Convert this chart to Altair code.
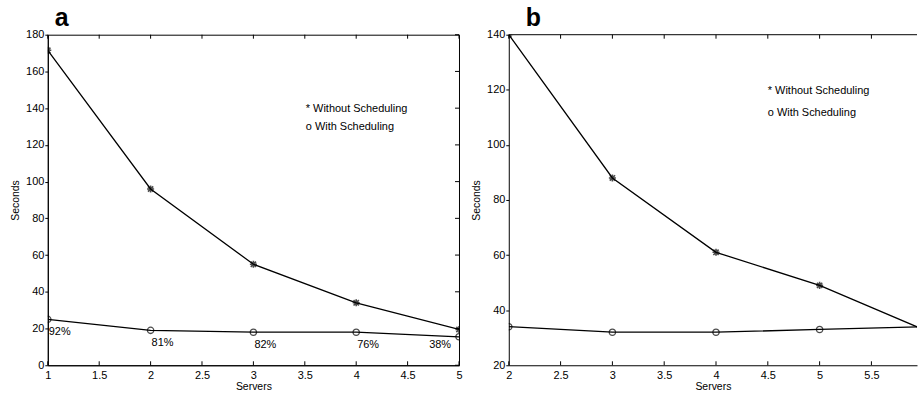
import altair as alt
import pandas as pd

# ---- data ----
servers_a = [1, 2, 3, 4, 5]
without_a = [171.5, 96, 55, 34, 19.5]
with_a = [25, 19, 18, 18, 15.5]
pct_a = ["92%", "81%", "82%", "76%", "38%"]

servers_b = [2, 3, 4, 5, 6]
without_b = [140, 88, 61, 49, 33]
with_b = [34, 32, 32, 33, 34]

xticks_a = [1, 1.5, 2, 2.5, 3, 3.5, 4, 4.5, 5]
yticks_a = [0, 20, 40, 60, 80, 100, 120, 140, 160, 180]
xticks_b = [2, 2.5, 3, 3.5, 4, 4.5, 5, 5.5]
yticks_b = [20, 40, 60, 80, 100, 120, 140]

legend_text = ["* Without Scheduling", "o With Scheduling"]
legend_a_x = [3.51, 3.51]
legend_a_y = [139.3, 129.6]
legend_b_x = [4.5, 4.5]
legend_b_y = [119.4, 111.4]

# panel b is cut off by the right edge of the figure just before x = 6
xdom_b = [2, 5.94]

FONT = "Liberation Sans"
ASTERISK = "M-1,0L1,0M0,-1L0,1M-0.75,-0.75L0.75,0.75M-0.75,0.75L0.75,-0.75"


def panel(title, title_dx, servers, without, withs, xdom, ydom, xticks, yticks,
          W, H, lx, ly, pct=None, right_frame=True):
    df = pd.DataFrame({"Servers": servers, "Without": without, "With": withs})
    xs = alt.Scale(domain=xdom, nice=False, zero=False)
    ys = alt.Scale(domain=ydom, nice=False, zero=False)
    xaxis = alt.Axis(values=xticks, format="~g", ticks=False, grid=False,
                     labelPadding=4, title="Servers", titlePadding=1,
                     labelFlush=False, labelOverlap=False)
    yaxis = alt.Axis(values=yticks, grid=False, ticks=True, tickSize=3,
                     labelPadding=1, title="Seconds", titlePadding=5,
                     labelFlush=False, labelOverlap=False)

    def X(f):
        return alt.X(f, scale=xs, axis=xaxis)

    def Y(f):
        return alt.Y(f, scale=ys, axis=yaxis)

    base = alt.Chart(df)
    line_wo = base.mark_line(color="black", strokeWidth=1.3, clip=True).encode(
        x=X("Servers:Q"), y=Y("Without:Q"))
    pts_wo = base.mark_point(shape=ASTERISK, color="black", size=50, strokeWidth=1.6,
                             filled=False, clip=True).encode(
        x=X("Servers:Q"), y=Y("Without:Q"))
    line_w = base.mark_line(color="black", strokeWidth=1.3, clip=True).encode(
        x=X("Servers:Q"), y=Y("With:Q"))
    pts_w = base.mark_point(shape="circle", color="black", size=40, strokeWidth=1.3,
                            filled=False, clip=True).encode(
        x=X("Servers:Q"), y=Y("With:Q"))

    xt = pd.DataFrame({"t": xticks})
    yt = pd.DataFrame({"t": yticks})
    tick_b = alt.Chart(xt).mark_rule(color="black", strokeWidth=1).encode(
        x=X("t:Q"), y=alt.value(H), y2=alt.value(H - 4))
    tick_t = alt.Chart(xt).mark_rule(color="black", strokeWidth=1).encode(
        x=X("t:Q"), y=alt.value(0), y2=alt.value(4))

    leg = pd.DataFrame({"x": lx, "y": ly, "txt": legend_text})
    legend = alt.Chart(leg).mark_text(align="left", baseline="middle", font=FONT,
                                      fontSize=11, color="black").encode(
        x=X("x:Q"), y=Y("y:Q"), text="txt:N")

    layers = [line_wo, line_w, pts_wo, pts_w, tick_b, tick_t, legend]

    if right_frame:
        tick_r = alt.Chart(yt).mark_rule(color="black", strokeWidth=1).encode(
            y=Y("t:Q"), x=alt.value(W), x2=alt.value(W - 4))
        layers.append(tick_r)
        view = alt.ViewBackground(stroke="black", strokeWidth=1)
    else:
        top = alt.Chart(xt.iloc[:1]).mark_rule(color="black", strokeWidth=1).encode(
            x=alt.value(0), x2=alt.value(W), y=alt.value(0))
        layers.append(top)
        view = alt.ViewBackground(stroke=None)

    if pct is not None:
        pdf = pd.DataFrame({"Servers": servers, "With": withs, "pct": pct})
        lab1 = alt.Chart(pdf.iloc[:-1]).mark_text(
            align="center", baseline="middle", dx=12, dy=13, font=FONT, fontSize=11,
            color="black").encode(x=X("Servers:Q"), y=Y("With:Q"), text="pct:N")
        lab2 = alt.Chart(pdf.iloc[-1:]).mark_text(
            align="center", baseline="middle", dx=-19, dy=8, font=FONT, fontSize=11,
            color="black").encode(x=X("Servers:Q"), y=Y("With:Q"), text="pct:N")
        layers += [lab1, lab2]

    return alt.layer(*layers).properties(
        width=W, height=H, view=view,
        title=alt.TitleParams(title, anchor="start", frame="group", dx=title_dx,
                              fontSize=25, fontWeight="bold", font=FONT,
                              color="black", offset=-2))


pa = panel("a", 7, servers_a, without_a, with_a, [1, 5], [0, 180], xticks_a, yticks_a,
           413, 332, legend_a_x, legend_a_y, pct_a)
pb = panel("b", 17, servers_b, without_b, with_b, xdom_b, [20, 140], xticks_b, yticks_b,
           410, 332, legend_b_x, legend_b_y, right_frame=False)

chart = alt.hconcat(pa, pb, spacing=8).properties(
    padding={"left": 10, "top": 4, "right": 0, "bottom": 0},
    background="white"
).configure_view(stroke="black", strokeWidth=1).configure_axis(
    labelFont=FONT, labelFontSize=11, labelColor="black",
    titleFont=FONT, titleFontSize=10.5, titleFontWeight="normal", titleColor="black",
    domainColor="black", tickColor="black", domainWidth=1
)

chart.save("out.html", embed_options={"renderer": "svg", "actions": False})
